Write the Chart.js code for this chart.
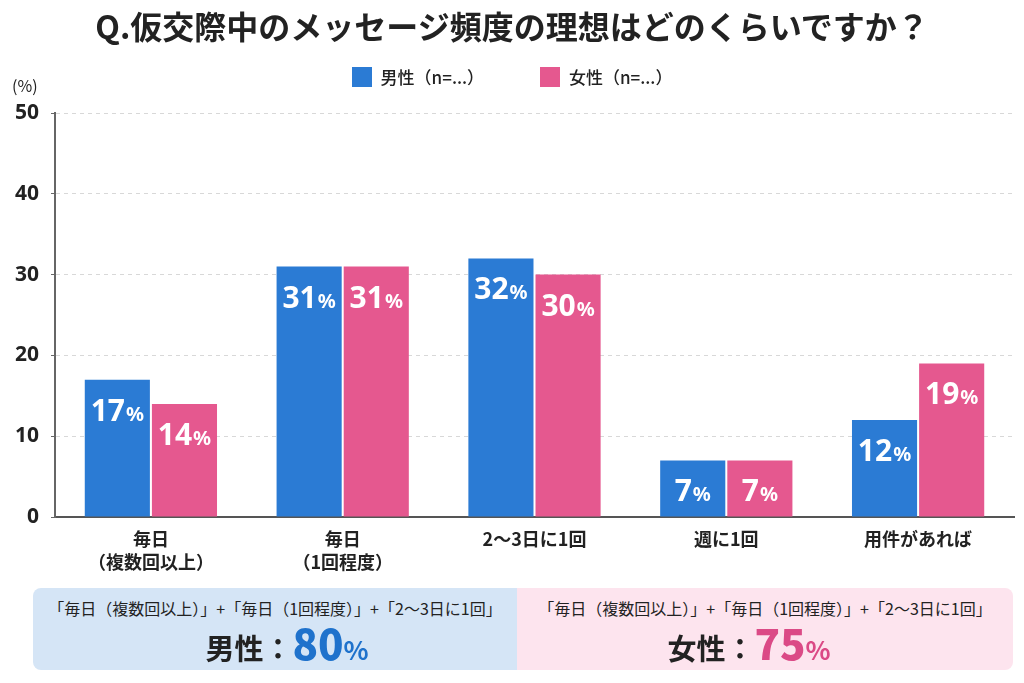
<!DOCTYPE html>
<html lang="ja">
<head>
<meta charset="utf-8">
<script src="https://cdn.jsdelivr.net/npm/chart.js@4/dist/chart.umd.min.js"></script>
<style>
  html, body { margin: 0; padding: 0; background: #fff; }
  body { width: 1024px; height: 683px; position: relative; overflow: hidden;
    font-family: "Noto Sans CJK JP", "Noto Sans", sans-serif; color: #222; }
  #wrap { position: absolute; left: 0; top: 0; width: 1024px; height: 683px; }
  .title { position: absolute; top: 2px; left: 0; width: 1024px; text-align: center;
    font-size: 32px; font-weight: bold; }
  .legend { position: absolute; top: 64px; left: 0; width: 1024px; text-align: center;
    font-size: 17px; font-weight: 500; }
  .legend span { display: inline-block; margin: 0 26px; }
  .legend i { display: inline-block; width: 20px; height: 20px; vertical-align: -3px; margin-right: 9px; }
  .unit { position: absolute; left: 12px; top: 73px; font-size: 16px; }
  .summary { position: absolute; left: 33px; top: 588px; width: 980px; height: 82px;
    border-radius: 8px; overflow: hidden; display: flex; }
  .summary div { text-align: center; }
  .summary .m { background: #d5e5f6; width: 484px; }
  .summary .f { background: #fde4ee; flex: 1; }
  .summary p { margin: 0; }
  .summary .cap { font-size: 16px; margin-top: 8px; line-height: 24px; }
  .summary .big { font-size: 29px; font-weight: bold; line-height: 44px; position: relative; }
  .summary .m .big { left: 12px; }
  .summary .f .big { left: -16px; }
  .summary .big b { font-size: 42px; }
  .summary .big small { font-size: 26px; }
</style>
</head>
<body>
<div id="wrap"><canvas id="chart" width="1024" height="683"></canvas></div>
<div class="title">Q.仮交際中のメッセージ頻度の理想はどのくらいですか？</div>
<div class="legend">
  <span><i style="background:#2b7bd4"></i>男性（n=...）</span>
  <span><i style="background:#e5588f"></i>女性（n=...）</span>
</div>
<div class="unit">(%)</div>
<div class="summary">
  <div class="m">
    <p class="cap">「毎日（複数回以上）」+「毎日（1回程度）」+「2〜3日に1回」</p>
    <p class="big">男性：<b style="color:#1f72cc">80</b><small style="color:#1f72cc">%</small></p>
  </div>
  <div class="f">
    <p class="cap">「毎日（複数回以上）」+「毎日（1回程度）」+「2〜3日に1回」</p>
    <p class="big">女性：<b style="color:#db4a86">75</b><small style="color:#db4a86">%</small></p>
  </div>
</div>
<script>
const categories = [["毎日", "（複数回以上）"], ["毎日", "（1回程度）"], "2〜3日に1回", "週に1回", "用件があれば"];
const maleValues = [17, 31, 32, 7, 12];
const femaleValues = [14, 31, 30, 7, 19];
const yTicks = [0, 10, 20, 30, 40, 50];

const barLabels = {
  id: "barLabels",
  afterDatasetsDraw(chart) {
    const ctx = chart.ctx;
    chart.data.datasets.forEach((ds, i) => {
      chart.getDatasetMeta(i).data.forEach((bar, j) => {
        const num = String(ds.data[j]);
        ctx.save();
        ctx.fillStyle = "#fff";
        ctx.textBaseline = "alphabetic";
        ctx.textAlign = "left";
        ctx.font = "bold 30px 'Noto Sans', sans-serif";
        const w1 = ctx.measureText(num).width;
        ctx.font = "bold 20px 'Noto Sans', sans-serif";
        const w2 = ctx.measureText("%").width;
        const x0 = bar.x - (w1 + w2 + 1) / 2;
        const y = bar.y + 41;
        ctx.font = "bold 30px 'Noto Sans', sans-serif";
        ctx.fillText(num, x0, y);
        ctx.font = "bold 20px 'Noto Sans', sans-serif";
        ctx.fillText("%", x0 + w1 + 1, y);
        ctx.restore();
      });
    });
  }
};

new Chart(document.getElementById("chart"), {
  type: "bar",
  plugins: [barLabels],
  data: {
    labels: categories,
    datasets: [
      { label: "男性", data: maleValues, backgroundColor: "#2b7bd4" },
      { label: "女性", data: femaleValues, backgroundColor: "#e5588f" }
    ]
  },
  options: {
    responsive: false,
    animation: false,
    layout: { padding: { top: 113, right: 10, left: 0, bottom: 0 } },
    categoryPercentage: 0.70,
    barPercentage: 0.97,
    plugins: { legend: { display: false }, tooltip: { enabled: false } },
    scales: {
      x: {
        afterFit(scale) { scale.height = 166; },
        grid: { display: false, drawTicks: false },
        border: { color: "#555", width: 2 },
        ticks: { color: "#222", padding: 10, font: { size: 18, weight: "bold", family: "'Noto Sans CJK JP'", lineHeight: 1.3 } }
      },
      y: {
        min: 0, max: 50,
        afterFit(scale) { scale.width = 55; },
        afterBuildTicks(scale) { scale.ticks = yTicks.map(v => ({ value: v })); },
        border: { color: "#666", width: 2, dash: [4, 4] },
        grid: { color: "#d8d8d8", tickLength: 4, tickColor: "#666" },
        ticks: { color: "#222", padding: 12, font: { size: 21, weight: "bold", family: "'Noto Sans'" } }
      }
    }
  }
});
</script>
</body>
</html>
